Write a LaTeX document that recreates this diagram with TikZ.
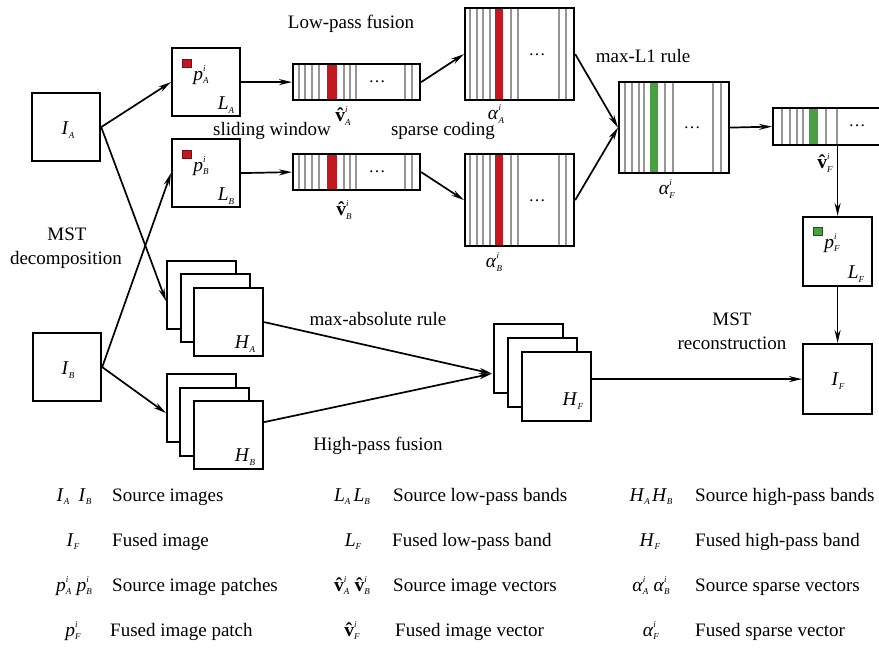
\documentclass[tikz,border=0pt]{standalone}
\usepackage{fontspec}
\setmainfont{Liberation Serif}
\usetikzlibrary{arrows.meta,calc}
\definecolor{bred}{RGB}{196,24,32}
\definecolor{bgreen}{RGB}{72,160,64}
\definecolor{lgray}{RGB}{150,150,150}
\newcommand\subsup[2]{\makebox[0pt][l]{\raisebox{9pt}{\fontsize{9}{9}\selectfont\textit{#2}}}\raisebox{-3.5pt}{\fontsize{9}{9}\selectfont\textit{#1}}}
\newcommand\sy[3]{\textit{#1}\subsup{#2}{#3}}
\newcommand\vh{\ooalign{\textbf{v}\cr\hidewidth\textbf{\char"02C6}\hidewidth\cr}}
\begin{document}
\begin{tikzpicture}[x=1pt,y=-1pt,
  box/.style={draw, line width=2.2pt, inner sep=0, fill=white, anchor=north west},
  strip/.style={draw, line width=2.2pt, inner sep=0, anchor=north west},
  arr/.style={line width=1.7pt, -{Stealth[length=13pt,width=6pt]}},
  txt/.style={font=\fontsize{19}{23}\selectfont, inner sep=0, anchor=base},
  lt/.style={txt, anchor=base west},
  sym/.style={font=\fontsize{19.5}{22}\selectfont, inner sep=0},
  lsym/.style={sym, anchor=base},
  gl/.style={draw=lgray, line width=1.1pt},
  dots/.style={font=\fontsize{17}{20}\selectfont, inner sep=0},
]
\useasboundingbox (0,0) rectangle (879,648);
\clip (0,0) rectangle (879,648);

% ---------- source images ----------
\node[box, minimum width=68pt, minimum height=68pt] (IA) at (31,92) {};
\node[box, minimum width=68pt, minimum height=68pt] (IB) at (32,332) {};
\node[sym] (IAl) at (68,130) {\sy{I}{A}{}};
\node[sym] (IBl) at (68,370) {\sy{I}{B}{}};

% ---------- low-pass bands ----------
\node[box, minimum width=68pt, minimum height=68pt] (LA) at (171,47) {};
\node[box, minimum width=68pt, minimum height=68pt] (LB) at (171,138) {};
\filldraw[fill=bred, draw=bred!60!black, line width=0.6pt] (182,59) rectangle (191,67);
\filldraw[fill=bred, draw=bred!60!black, line width=0.6pt] (182,150) rectangle (191,158);
\node[sym] (pA) at (201,75) {\sy{p}{A}{i}};
\node[sym] (pB) at (201,166) {\sy{p}{B}{i}};
\node[sym] (LAl) at (226,105) {\sy{L}{A}{}};
\node[sym] (LBl) at (226,196) {\sy{L}{B}{}};

% ---------- high-pass stacks ----------
\node[box, minimum width=69pt, minimum height=68pt] (HAb) at (166,260) {};
\node[box, minimum width=69pt, minimum height=68pt] (HAm) at (180,273) {};
\node[box, minimum width=69pt, minimum height=68pt] (HAf) at (193,287) {};
\node[sym] (HAl) at (245,344) {\sy{H}{A}{}};
\node[box, minimum width=69pt, minimum height=68pt] (HBb) at (166,373) {};
\node[box, minimum width=69pt, minimum height=68pt] (HBm) at (179,387) {};
\node[box, minimum width=69pt, minimum height=68pt] (HBf) at (193,400) {};
\node[sym] (HBl) at (245,457) {\sy{H}{B}{}};
\node[box, minimum width=69pt, minimum height=69pt] (HFb) at (493,323) {};
\node[box, minimum width=69pt, minimum height=69pt] (HFm) at (507,337) {};
\node[box, minimum width=69pt, minimum height=69pt] (HFf) at (521,351) {};
\node[sym] (HFl) at (573,401) {\sy{H}{F}{}};

% ---------- strips (image vectors) ----------
\begin{scope}[shift={(292,63)}]
  \fill[bred] (35,0) rectangle (45,36);
  \foreach \d in {7,13,20,27,52,58,64,113,120} \draw[gl] (\d,0) -- (\d,36);
  \node[dots] (dA) at (85,19) {\dots};
\end{scope}
\node[strip, minimum width=127pt, minimum height=36pt] (SA) at (292,63) {};
\begin{scope}[shift={(292,153)}]
  \fill[bred] (35,0) rectangle (45,36);
  \foreach \d in {7,13,20,27,52,58,64,113,120} \draw[gl] (\d,0) -- (\d,36);
  \node[dots] (dB) at (85,19) {\dots};
\end{scope}
\node[strip, minimum width=127pt, minimum height=36pt] (SB) at (292,153) {};
\node[sym] (vAl) at (343,116) {\vh\subsup{A}{i}};
\node[sym] (vBl) at (344,210) {\vh\subsup{B}{i}};

% ---------- sparse coefficient matrices ----------
\begin{scope}[shift={(464,7)}]
  \fill[bred] (31,0) rectangle (39,92);
  \foreach \d in {6,13,19,26,47,54,95,102} \draw[gl] (\d,0) -- (\d,92);
  \node[dots] (dMA) at (73,48) {\dots};
\end{scope}
\node[strip, minimum width=109pt, minimum height=92pt] (MA) at (464,7) {};
\begin{scope}[shift={(464,153)}]
  \fill[bred] (31,0) rectangle (39,92);
  \foreach \d in {6,13,19,26,47,54,95,102} \draw[gl] (\d,0) -- (\d,92);
  \node[dots] (dMB) at (73,48) {\dots};
\end{scope}
\node[strip, minimum width=109pt, minimum height=92pt] (MB) at (464,153) {};
\node[sym] (aAl) at (496,114) {\sy{α}{A}{i}};
\node[sym] (aBl) at (494,262) {\sy{α}{B}{i}};

\begin{scope}[shift={(618,81)}]
  \fill[bgreen] (32,0) rectangle (40,91);
  \foreach \d in {7,14,21,26,47,55,95,103} \draw[gl] (\d,0) -- (\d,91);
  \node[dots] (dMF) at (74,47) {\dots};
\end{scope}
\node[strip, minimum width=110pt, minimum height=91pt] (MF) at (618,81) {};
\node[sym] (aFl) at (667,189) {\sy{α}{F}{i}};

\begin{scope}[shift={(772,107)}]
  \fill[bgreen] (37,0) rectangle (46,37);
  \foreach \d in {10,18,25,31,54,65,115,120} \draw[gl] (\d,0) -- (\d,37);
  \node[dots] (dF) at (85,19) {\dots};
\end{scope}
\node[strip, minimum width=127pt, minimum height=37pt] (SF) at (772,107) {};
\node[sym] (vFl) at (825,163) {\vh\subsup{F}{i}};

% ---------- fused low-pass band and fused image ----------
\node[box, minimum width=69pt, minimum height=69pt] (LF) at (802,216) {};
\filldraw[fill=bgreen, draw=bgreen!50!black, line width=0.6pt] (813,227) rectangle (822,235);
\node[sym] (pF) at (832,243) {\sy{p}{F}{i}};
\node[sym] (LFl) at (856,274) {\sy{L}{F}{}};
\node[box, minimum width=69pt, minimum height=70pt] (IF) at (802,343) {};
\node[sym] (IFl) at (838,381) {\sy{I}{F}{}};

% ---------- connectors ----------
\draw[arr] (IA.east) -- (LA.west);
\draw[arr] (IA.east) -- ($(HAb.west)+(0,6)$);
\draw[arr] (IB.east) -- (LB.west);
\draw[arr] (IB.east) -- ($(HBb.west)+(0,5)$);
\draw[arr] (LA.east) -- (SA.west);
\draw[arr] (LB.east) -- (SB.west);
\draw[arr] (SA.east) -- (MA.west);
\draw[arr] (SB.east) -- (MB.west);
\draw[arr] (MA.east) -- (MF.west);
\draw[arr] (MB.east) -- (MF.west);
\draw[arr] (MF.east) -- (SF.west);
\draw[arr] (LF.north |- SF.south) -- (LF.north);
\draw[arr] (LF.south) -- (IF.north);
\coordinate (hfin) at ($(HFb.west)+(-1,15)$);
\draw[arr] (HAf.east) -- (hfin);
\draw[arr] ($(HBf.east)+(0,-13)$) -- (hfin);
\draw[arr] (HFf.east |- IF.west) -- (IF.west);

% ---------- process labels ----------
\node[txt] (t1) at (351,28) {Low-pass fusion};
\node[txt] (t2) at (272,135) {sliding window};
\node[txt] (t3) at (443,135) {sparse coding};
\node[txt] (t4) at (643,62) {max-L1 rule};
\node[txt] (t5) at (378,325) {max-absolute rule};
\node[txt] (t6) at (378,450) {High-pass fusion};
\node[txt] (t7) at (732,325) {MST};
\node[txt] (t8) at (732,349) {reconstruction};
\node[txt] (t9) at (67,240) {MST};
\node[txt] (t10) at (66,264) {decomposition};

% ---------- legend ----------
\node[lsym] (g1) at (74,501) {\sy{I}{A}{}\hspace{9pt}\sy{I}{B}{}};
\node[lt] (g1t) at (112,501) {Source images};
\node[lsym] (g2) at (73,546) {\sy{I}{F}{}};
\node[lt] (g2t) at (112,546) {Fused image};
\node[lsym] (g3) at (74,591) {\sy{p}{A}{i}\hspace{5pt}\sy{p}{B}{i}};
\node[lt] (g3t) at (112,591) {Source image patches};
\node[lsym] (g4) at (73,636) {\sy{p}{F}{i}};
\node[lt] (g4t) at (110,636) {Fused image patch};

\node[lsym] (h1) at (352,501) {\sy{L}{A}{}\hspace{3pt}\sy{L}{B}{}};
\node[lt] (h1t) at (393,501) {Source low-pass bands};
\node[lsym] (h2) at (353,546) {\sy{L}{F}{}};
\node[lt] (h2t) at (392,546) {Fused low-pass band};
\node[lsym] (h3) at (352,591) {\vh\subsup{A}{i}\hspace{5pt}\vh\subsup{B}{i}};
\node[lt] (h3t) at (393,591) {Source image vectors};
\node[lsym] (h4) at (352,636) {\vh\subsup{F}{i}};
\node[lt] (h4t) at (395,636) {Fused image vector};

\node[lsym] (k1) at (651,501) {\sy{H}{A}{}\hspace{2pt}\sy{H}{B}{}};
\node[lt] (k1t) at (695,501) {Source high-pass bands};
\node[lsym] (k2) at (650,546) {\sy{H}{F}{}};
\node[lt] (k2t) at (695,546) {Fused high-pass band};
\node[lsym] (k3) at (651,591) {\sy{α}{A}{i}\hspace{5pt}\sy{α}{B}{i}};
\node[lt] (k3t) at (695,591) {Source sparse vectors};
\node[lsym] (k4) at (651,636) {\sy{α}{F}{i}};
\node[lt] (k4t) at (695,636) {Fused sparse vector};
\end{tikzpicture}
\end{document}
